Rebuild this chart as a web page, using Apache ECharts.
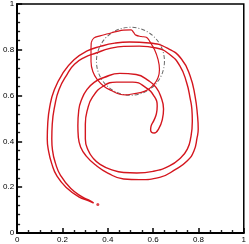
<!DOCTYPE html>
<html><head><meta charset="utf-8">
<script src="https://cdn.jsdelivr.net/npm/echarts@6/dist/echarts.min.js"></script>
<style>html,body{margin:0;padding:0;background:#fff}#c{width:249px;height:244px}</style>
</head><body><div id="c"></div>
<script>
// Spiral interface (closed curve): outer edge from tail to hook, then inner edge back
const spiralX = [0.338,0.316,0.272,0.222,0.176,0.152,0.138,0.133,0.135,0.144,0.163,0.200,0.251,0.309,0.368,0.431,0.496,0.583,0.667,0.725,0.763,0.785,0.796,0.799,0.794,0.780,0.751,0.701,0.629,0.539,0.470,0.400,0.345,0.304,0.280,0.270,0.268,0.272,0.285,0.307,0.340,0.383,0.453,0.525,0.583,0.613,0.633,0.646,0.641,0.625,0.605,0.589,
  0.591,0.604,0.615,0.618,0.604,0.568,0.510,0.439,0.381,0.333,0.311,0.301,0.301,0.314,0.336,0.366,0.412,0.470,0.528,0.600,0.672,0.722,0.751,0.766,0.773,0.771,0.764,0.748,0.718,0.669,0.614,0.539,0.470,0.410,0.348,0.298,0.253,0.222,0.185,0.166,0.155,0.153,0.156,0.169,0.192,0.237,0.287,0.323,0.338];
const spiralY = [0.131,0.140,0.158,0.194,0.248,0.305,0.362,0.411,0.476,0.552,0.622,0.695,0.757,0.795,0.815,0.829,0.834,0.830,0.805,0.760,0.687,0.598,0.511,0.454,0.416,0.358,0.315,0.279,0.243,0.233,0.236,0.262,0.298,0.337,0.376,0.419,0.468,0.537,0.584,0.625,0.658,0.679,0.697,0.692,0.663,0.636,0.598,0.541,0.497,0.456,0.437,0.450,
  0.467,0.493,0.523,0.555,0.598,0.635,0.659,0.659,0.642,0.594,0.541,0.476,0.411,0.360,0.326,0.300,0.278,0.264,0.262,0.269,0.293,0.329,0.366,0.416,0.488,0.541,0.585,0.656,0.730,0.783,0.808,0.816,0.815,0.806,0.786,0.767,0.737,0.695,0.627,0.555,0.476,0.411,0.362,0.305,0.251,0.194,0.158,0.140,0.131];
// Recovered shape (closed curve)
const blobX = [0.327,0.338,0.366,0.401,0.436,0.470,0.503,0.513,0.524,0.548,0.570,0.585,0.606,0.622,0.628,0.622,0.604,0.578,0.548,0.513,0.479,0.453,0.418,0.384,0.353,0.334,0.326,0.326,0.327];
const blobY = [0.831,0.851,0.861,0.870,0.879,0.886,0.887,0.877,0.864,0.858,0.855,0.837,0.801,0.757,0.714,0.679,0.649,0.627,0.614,0.608,0.603,0.606,0.621,0.640,0.671,0.705,0.749,0.801,0.831];
// Small detached droplet
const dropX = [0.356];
const dropY = [0.124];
// Exact circle (centre and radius)
const circleCenter = [0.5, 0.75];
const circleRadius = 0.15;
// Axis range / ticks
const axisMin = 0, axisMax = 1, axisStep = 0.2;

const zip = (a, b) => a.map((v, i) => [v, b[i]]);
const red = '#d4161e';
const font = 'Liberation Sans, Arial, sans-serif';
const chart = echarts.init(document.getElementById('c'));
function mainAxis(pos, minorSplit) {
  return {
    type: 'value', position: pos, min: axisMin, max: axisMax, interval: axisStep,
    axisLine: {show: true, onZero: false, lineStyle: {color: '#000', width: 2}},
    axisTick: {show: true, inside: true, length: 5, lineStyle: {color: '#000', width: 1.5}},
    minorTick: {show: true, splitNumber: minorSplit, length: 3, lineStyle: {color: '#222', width: 1.4}},
    splitLine: {show: false},
    axisLabel: {show: true, color: '#000', fontSize: 8, fontFamily: font, margin: 3}
  };
}
chart.setOption({
  animation: false,
  grid: {left: 15, right: 3, top: 4, bottom: 9.5, show: true, borderColor: '#000', borderWidth: 1.5, z: 3},
  xAxis: mainAxis('bottom', 4),
  yAxis: mainAxis('left', 5),
  series: [
    {type: 'scatter', data: [circleCenter], symbol: 'circle', symbolSize: 10, silent: true,
     itemStyle: {color: 'transparent', borderColor: '#444', borderWidth: 1, borderType: [4, 2, 1, 2]}, z: 1},
    {type: 'line', data: zip(spiralX, spiralY), showSymbol: false, smooth: 0.5,
     lineStyle: {color: red, width: 1.4}, z: 2},
    {type: 'line', data: zip(blobX, blobY), showSymbol: false, smooth: 0.4,
     lineStyle: {color: red, width: 1.2}, z: 2},
    {type: 'scatter', data: zip(dropX, dropY), symbolSize: 3, itemStyle: {color: red}, z: 2}
  ]
});
// size the circle symbol from the radius via the axis scale
const p0 = chart.convertToPixel({gridIndex: 0}, [circleCenter[0] - circleRadius, circleCenter[1]]);
const p1 = chart.convertToPixel({gridIndex: 0}, [circleCenter[0] + circleRadius, circleCenter[1]]);
chart.setOption({series: [{symbolSize: Math.abs(p1[0] - p0[0])}]});
</script></body></html>
